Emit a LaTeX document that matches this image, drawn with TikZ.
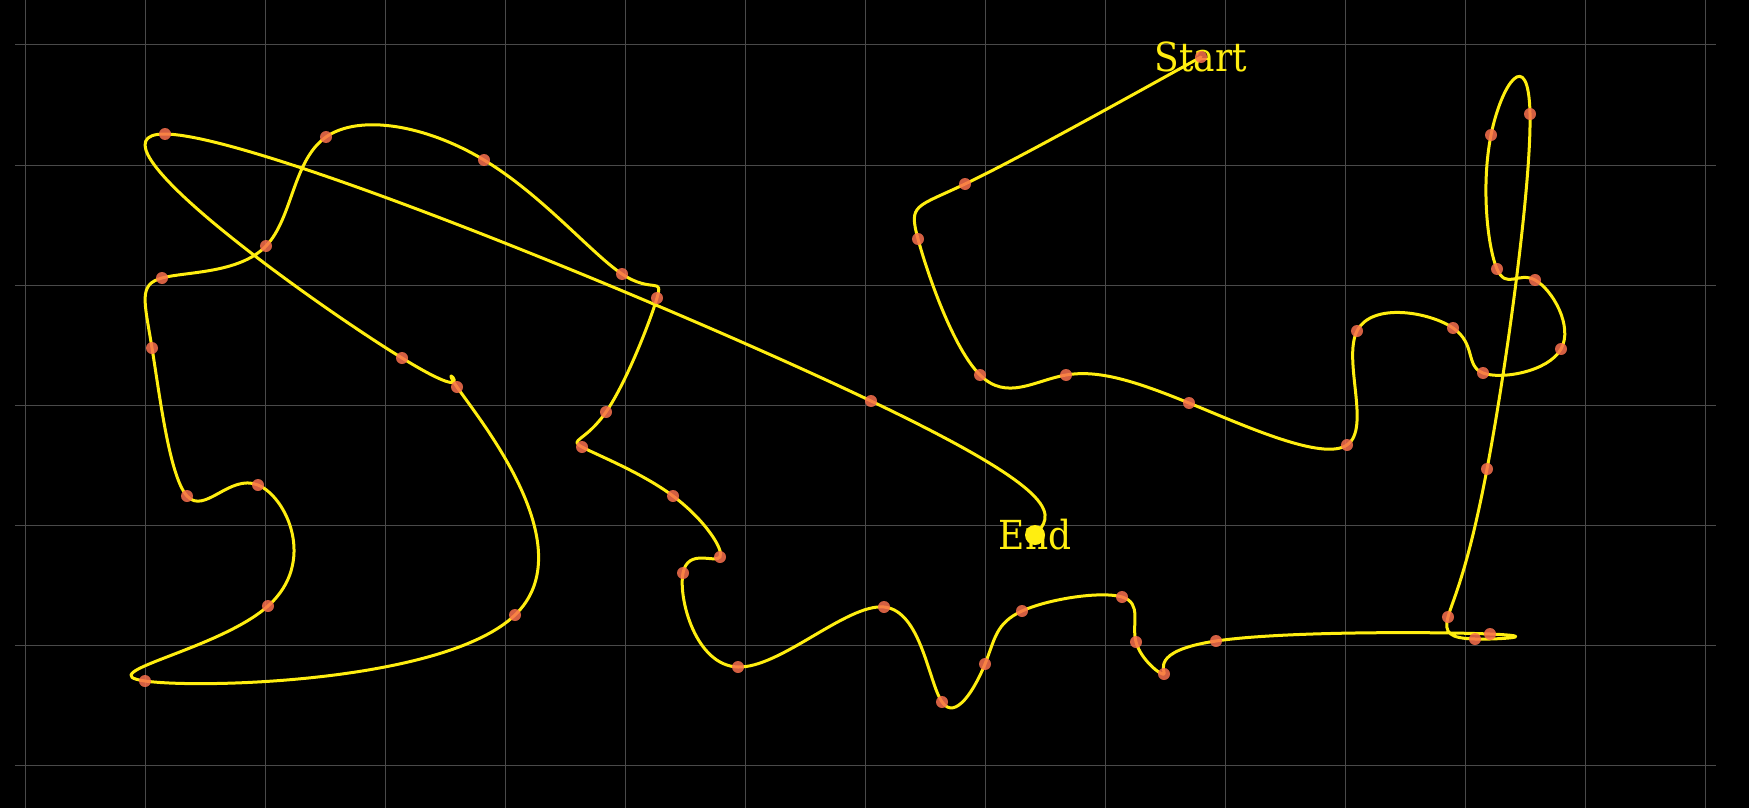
\documentclass[tikz,border=0pt]{standalone}
\usepackage{fontspec}
\newfontfamily\labelfont{DejaVu Serif Condensed}
\definecolor{bg}{HTML}{000000}
\definecolor{gridc}{HTML}{4A4A4A}
\definecolor{curvec}{HTML}{FFEE10}
\definecolor{dotc}{HTML}{F8704E}
\tikzset{
  gridline/.style={draw=gridc, line width=0.5pt},
  curveline/.style={draw=curvec, line width=1.5pt, line join=round, line cap=round},
  ptdot/.style={fill=dotc, fill opacity=0.85},
  enddot/.style={fill=curvec},
  label/.style={text=curvec, inner sep=0pt, font=\labelfont\fontsize{20pt}{24pt}\selectfont}
}
\def\getp#1#2{\csname p#1#2\endcsname}
\def\setg#1#2{\expandafter\xdef\csname #1\endcsname{#2}}
\begin{document}
\begin{tikzpicture}[x=0.5pt, y=-0.5pt]
\useasboundingbox (0,0) rectangle (1749,808);
\fill[bg] (0,0) rectangle (1749,808);
% grid
\foreach \i in {0,...,14} {\draw[gridline] (25+120*\i,0) -- (25+120*\i,808);}
\foreach \j in {0,...,6} {\draw[gridline] (15,45+120*\j) -- (1716,45+120*\j);}
% points
\def\ptlist{1201/57,965/184,918/239,980/375,1066/375,1189/403,1347/445,1357/331,1453/328,1483/373,1561/349,1535/280,1497/269,1491/135,1530/114,1487/469,1448/617,1475/639,1490/634,1216/641,1164/674,1136/642,1122/597,1022/611,985/664,942/702,884/607,738/667,683/573,720/557,673/496,582/447,606/412,657/298,622/274,484/160,326/137,266/246,162/278,152/348,187/496,258/485,268/606,145/681,515/615,457/387,402/358,165/134,871/401,1035/535}
\foreach \x/\y [count=\i from 0] in \ptlist {
  \coordinate (p\i) at (\x,\y);
  \setg{px\i}{\x}\setg{py\i}{\y}
  \setg{nlast}{\i}
}
\pgfmathtruncatemacro\nlastm{\nlast-1}
% natural cubic spline (uniform parameter): forward sweep
\setg{cp0}{0.5}
\pgfmathsetmacro\tmp{1.5*(\getp{x}{1}-\getp{x}{0})}\setg{dx0}{\tmp}
\pgfmathsetmacro\tmp{1.5*(\getp{y}{1}-\getp{y}{0})}\setg{dy0}{\tmp}
\foreach \i in {1,...,\nlast}{
  \pgfmathtruncatemacro\im{\i-1}
  \pgfmathtruncatemacro\ip{\i+1}
  \ifnum\i<\nlast\relax
    \def\bb{4}\def\cc{1}
    \pgfmathsetmacro\rx{3*(\getp{x}{\ip}-\getp{x}{\im})}
    \pgfmathsetmacro\ry{3*(\getp{y}{\ip}-\getp{y}{\im})}
  \else
    \def\bb{2}\def\cc{0}
    \pgfmathsetmacro\rx{3*(\getp{x}{\i}-\getp{x}{\im})}
    \pgfmathsetmacro\ry{3*(\getp{y}{\i}-\getp{y}{\im})}
  \fi
  \pgfmathsetmacro\den{\bb-\csname cp\im\endcsname}
  \pgfmathsetmacro\tmp{\cc/\den}\setg{cp\i}{\tmp}
  \pgfmathsetmacro\tmp{(\rx-\csname dx\im\endcsname)/\den}\setg{dx\i}{\tmp}
  \pgfmathsetmacro\tmp{(\ry-\csname dy\im\endcsname)/\den}\setg{dy\i}{\tmp}
}
% back substitution
\setg{mx\nlast}{\csname dx\nlast\endcsname}
\setg{my\nlast}{\csname dy\nlast\endcsname}
\foreach \i in {\nlastm,...,0}{
  \pgfmathtruncatemacro\ip{\i+1}
  \pgfmathsetmacro\tmp{\csname dx\i\endcsname-\csname cp\i\endcsname*\csname mx\ip\endcsname}\setg{mx\i}{\tmp}
  \pgfmathsetmacro\tmp{\csname dy\i\endcsname-\csname cp\i\endcsname*\csname my\ip\endcsname}\setg{my\i}{\tmp}
}
% build the Bezier path
\gdef\pathstr{}
\foreach \i in {0,...,\nlastm}{
  \pgfmathtruncatemacro\ip{\i+1}
  \pgfmathsetmacro\ax{\getp{x}{\i}+\csname mx\i\endcsname/3}
  \pgfmathsetmacro\ay{\getp{y}{\i}+\csname my\i\endcsname/3}
  \pgfmathsetmacro\bx{\getp{x}{\ip}-\csname mx\ip\endcsname/3}
  \pgfmathsetmacro\by{\getp{y}{\ip}-\csname my\ip\endcsname/3}
  \xdef\pathstr{\pathstr .. controls (\ax,\ay) and (\bx,\by) .. (p\ip)}
}
\edef\drawcurve{\noexpand\draw[curveline] (p0) \pathstr;}
\drawcurve
\node[label] (start) at (p0) {Start};
\foreach \i in {0,...,\nlastm} {\fill[ptdot] (p\i) circle (3pt);}
\node[label] (end) at (p\nlast) {End};
\fill[enddot] (end.center) circle (5pt);
\end{tikzpicture}
\end{document}
